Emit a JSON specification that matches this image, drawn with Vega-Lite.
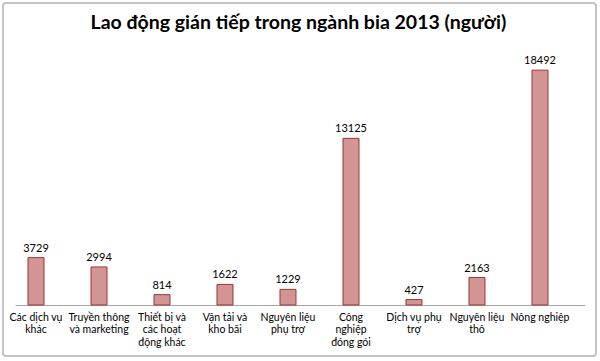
{
  "$schema": "https://vega.github.io/schema/vega-lite/v6.json",
  "autosize": "none",
  "width": 570,
  "height": 254,
  "padding": {"left": 15, "top": 51, "right": 15, "bottom": 56},
  "background": "white",
  "config": {
    "font": "Lato",
    "view": {"stroke": null}
  },
  "data": {
    "values": [
      {"category": "Các dịch vụ|khác", "value": 3729},
      {"category": "Truyền thông|và marketing", "value": 2994},
      {"category": "Thiết bị và|các hoạt|động khác", "value": 814},
      {"category": "Vận tải và|kho bãi", "value": 1622},
      {"category": "Nguyên liệu|phụ trợ", "value": 1229},
      {"category": "Công|nghiệp|đóng gói", "value": 13125},
      {"category": "Dịch vụ phụ|trợ", "value": 427},
      {"category": "Nguyên liệu|thô", "value": 2163},
      {"category": "Nông nghiệp", "value": 18492}
    ]
  },
  "encoding": {
    "x": {
      "field": "category",
      "type": "nominal",
      "sort": null,
      "scale": {"paddingInner": 0.746, "paddingOuter": 0.397, "align": 0.26},
      "axis": {
        "title": null,
        "orient": "bottom",
        "domain": true,
        "domainColor": "#a6a6a6",
        "domainWidth": 1,
        "ticks": false,
        "labelAngle": 0,
        "labelExpr": "split(datum.value, '|')",
        "labelFont": "Lato",
        "labelFontSize": 10.5,
        "labelColor": "#000000",
        "labelLineHeight": 12.5,
        "labelPadding": 7,
        "labelBaseline": "top",
        "labelLimit": 0
      }
    },
    "y": {
      "field": "value",
      "type": "quantitative",
      "scale": {"domain": [0, 20000], "nice": false},
      "axis": null
    }
  },
  "layer": [
    {
      "mark": {"type": "bar", "fill": "#d39593", "stroke": "#9b3534", "strokeWidth": 1}
    },
    {
      "mark": {"type": "text", "baseline": "bottom", "dy": -4, "fontSize": 11, "font": "Lato", "color": "#000000"},
      "encoding": {"text": {"field": "value", "type": "quantitative", "format": "d"}}
    },
    {
      "data": {"values": [{"top": 23780, "bottom": -4016}]},
      "mark": {"type": "rect", "fill": null, "fillOpacity": 0, "stroke": "#c4c4c4", "strokeWidth": 2, "cornerRadius": 3},
      "encoding": {
        "y": {"field": "top", "type": "quantitative"},
        "y2": {"field": "bottom"},
        "x": {"datum": "Các dịch vụ|khác", "bandPosition": -1.5625},
        "x2": {"datum": "Nông nghiệp", "bandPosition": 4.0}
      }
    },
    {
      "data": {"values": [{"title": "Lao động gián tiếp trong ngành bia 2013 (người)", "level": 21732}]},
      "mark": {"type": "text", "font": "Lato", "fontSize": 19.5, "fontWeight": "bold", "color": "#000000", "align": "center", "baseline": "alphabetic"},
      "encoding": {
        "text": {"field": "title"},
        "y": {"field": "level", "type": "quantitative"},
        "x": {"datum": "Nguyên liệu|phụ trợ", "bandPosition": 1.15}
      }
    }
  ]
}
